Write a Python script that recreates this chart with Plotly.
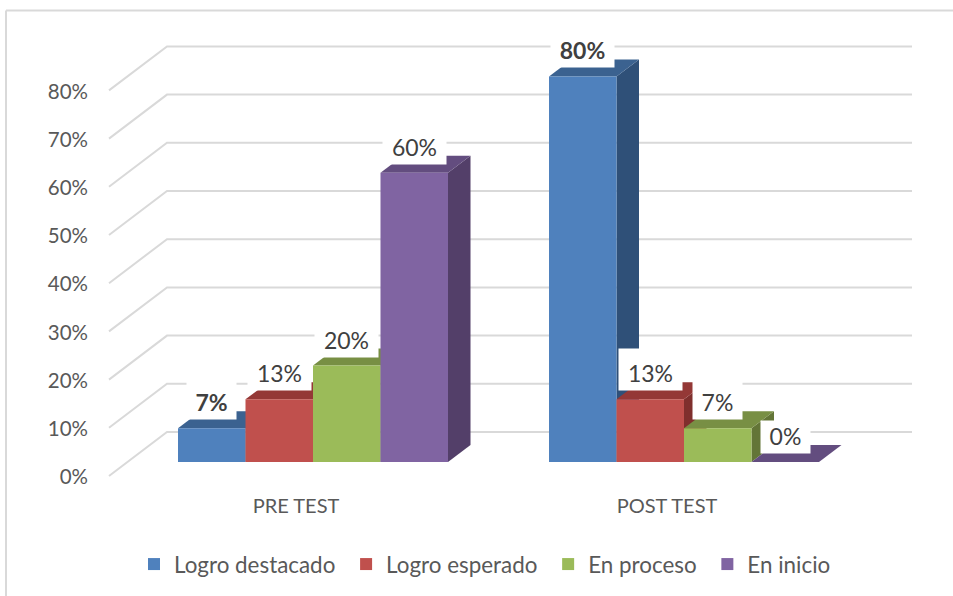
import plotly.graph_objects as go

# ---- data ----
categories = ["PRE TEST", "POST TEST"]
series_names = ["Logro destacado", "Logro esperado", "En proceso", "En inicio"]
logro_destacado = [7, 80]
logro_esperado = [13, 13]
en_proceso = [20, 7]
en_inicio = [60, 0]
y_ticks = [0, 10, 20, 30, 40, 50, 60, 70, 80]

series_values = [logro_destacado, logro_esperado, en_proceso, en_inicio]
front_colors = ["#4F81BD", "#C0504D", "#9BBB59", "#8064A2"]
top_colors = ["#3B6290", "#943836", "#788F44", "#634D7F"]
side_colors = ["#2F5078", "#7F2F2D", "#637537", "#533F69"]
bold_labels = {(0, 0), (0, 1)}
FONT = "Lato"

# ---- layout geometry (pixels per unit) ----
W, H = 953, 596
px_per_cat = 371.0
px_per_pct = 4.82
cat0_px = 313.0
base_px = 462.0
plot_left, plot_bottom = 92, 490
x_range = [(plot_left - cat0_px) / px_per_cat, (W - cat0_px) / px_per_cat]
y_range = [(base_px - plot_bottom) / px_per_pct, base_px / px_per_pct]

bar_w = 67.5 / px_per_cat
depth_x = 22.5 / px_per_cat
depth_y = 17.0 / px_per_pct
grid_left = (109 - cat0_px) / px_per_cat
grid_back = (167 - cat0_px) / px_per_cat
grid_right = (912 - cat0_px) / px_per_cat
grid_front_dy = -14.0 / px_per_pct
grid_back_dy = 30.0 / px_per_pct

fig = go.Figure()

# gridlines: side wall + back wall
gx, gy = [], []
for t in y_ticks:
    gx += [grid_left, grid_back, grid_right, None]
    gy += [t + grid_front_dy, t + grid_back_dy, t + grid_back_dy, None]
fig.add_trace(go.Scatter(x=gx, y=gy, mode="lines", showlegend=False, hoverinfo="skip",
                         line=dict(color="#D9D9D9", width=2)))

# top and side faces, below every front face
for i, vals in enumerate(series_values):
    for c, v in enumerate(vals):
        left = c + (i - 2) * bar_w
        right = left + bar_w
        fig.add_trace(go.Scatter(
            x=[right, right + depth_x, right + depth_x, right, right],
            y=[0, depth_y, v + depth_y, v, 0],
            mode="lines", fill="toself", fillcolor=side_colors[i],
            line=dict(width=0, color=side_colors[i]), showlegend=False, hoverinfo="skip"))
        fig.add_trace(go.Scatter(
            x=[left, left + depth_x, right + depth_x, right, left],
            y=[v, v + depth_y, v + depth_y, v, v],
            mode="lines", fill="toself", fillcolor=top_colors[i],
            line=dict(width=0, color=top_colors[i]), showlegend=False, hoverinfo="skip"))

# front faces: real bars on an overlaying subplot
for i, (name, vals) in enumerate(zip(series_names, series_values)):
    fig.add_trace(go.Bar(x=[0, 1], y=vals, name=name + "\u00a0", width=bar_w, offset=(i - 2) * bar_w,
                         marker=dict(color=front_colors[i], line=dict(width=0)),
                         xaxis="x2", yaxis="y2"))

# data labels
annotations = []
for i, vals in enumerate(series_values):
    for c, v in enumerate(vals):
        txt = f"{v}%"
        if (i, c) in bold_labels:
            txt = f"<b>{txt}</b>"
        annotations.append(dict(
            x=c + (i - 2) * bar_w + bar_w / 2, y=v, xref="x", yref="y",
            text=txt, showarrow=False, xanchor="center", yanchor="bottom", yshift=8,
            width=56 if len(str(v)) > 1 else 42, height=34 if v else 25,
            align="center", valign="bottom",
            bgcolor="#FFFFFF", borderpad=3.5,
            font=dict(family=FONT, size=23, color="#404040")))

frame_x0 = (6 - plot_left) / (W - plot_left)
frame_y1 = 1 - 10.5 / plot_bottom
shapes = [
    dict(type="line", xref="paper", yref="paper", x0=frame_x0, x1=1,
         y0=frame_y1, y1=frame_y1, line=dict(color="#D9D9D9", width=2)),
    dict(type="line", xref="paper", yref="paper", x0=frame_x0, x1=frame_x0,
         y0=frame_y1, y1=(plot_bottom - H) / plot_bottom, line=dict(color="#D9D9D9", width=2)),
]

fig.update_layout(
    width=W, height=H, autosize=False, paper_bgcolor="#FFFFFF", plot_bgcolor="rgba(0,0,0,0)",
    margin=dict(l=plot_left, r=0, t=0, b=H - plot_bottom, pad=0),
    barmode="overlay", annotations=annotations, shapes=shapes,
    font=dict(family=FONT, size=20.5, color="#595959"),
    xaxis=dict(range=x_range, tickmode="array", tickvals=[0, 1], ticktext=categories,
               showgrid=False, zeroline=False, showline=False, ticks="", ticklabelshift=-17,
               ticklabelstandoff=2, tickfont=dict(size=20)),
    yaxis=dict(range=y_range, tickmode="array", tickvals=y_ticks,
               ticktext=[f"{t}%" for t in y_ticks], showgrid=False, zeroline=False, showline=False,
               ticks="", ticklabelshift=15, ticklabelstandoff=3),
    xaxis2=dict(range=x_range, overlaying="x", visible=False),
    yaxis2=dict(range=y_range, overlaying="y", visible=False),
    legend=dict(orientation="h", x=(134 - plot_left) / (W - plot_left), xanchor="left",
                y=-(543 - plot_bottom) / plot_bottom, yanchor="top", traceorder="normal",
                font=dict(size=22.4, color="#595959"), bgcolor="rgba(0,0,0,0)", itemwidth=30),
)

fig.write_html("out.html", config={"displayModeBar": False},
               post_script="document.body.style.margin='0';")
